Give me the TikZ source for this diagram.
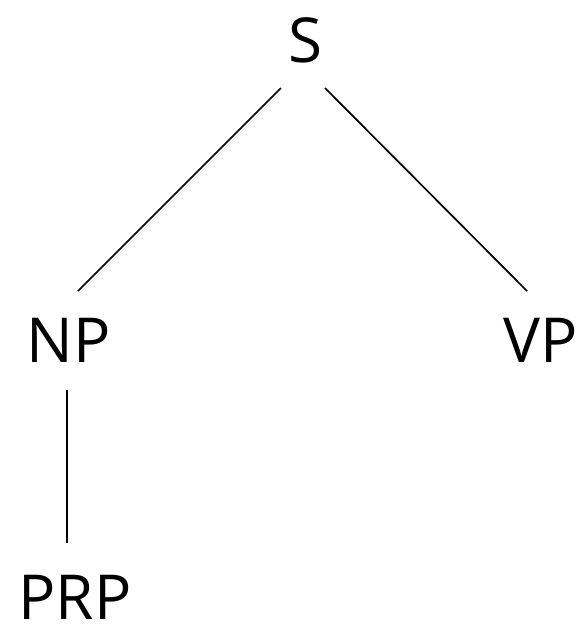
\documentclass[tikz,border=0pt]{standalone}
\usepackage{fontspec}
\setmainfont{Open Sans}
\begin{document}
\begin{tikzpicture}[x=1pt,y=-1pt,
  lbl/.style={inner sep=0pt,anchor=base,font=\fontsize{62}{62}\selectfont},
  edge/.style={line width=1.7pt,black}]
\useasboundingbox (0,0) rectangle (584,627);
\node[lbl] (S) at (306,62) {S};
\node[lbl] (NP) at (69,362) {NP};
\node[lbl] (VP) at (541,362) {VP};
\node[lbl] (PRP) at (75,619) {PRP};
\coordinate (Sl) at (281,88);
\coordinate (Sr) at (325,88);
\coordinate (NPt) at (78,291);
\coordinate (VPt) at (527,291);
\coordinate (NPb) at (67,390);
\coordinate (PRPt) at (67,543);
\draw[edge] (Sl) -- (NPt);
\draw[edge] (Sr) -- (VPt);
\draw[edge] (NPb) -- (PRPt);
\end{tikzpicture}
\end{document}
